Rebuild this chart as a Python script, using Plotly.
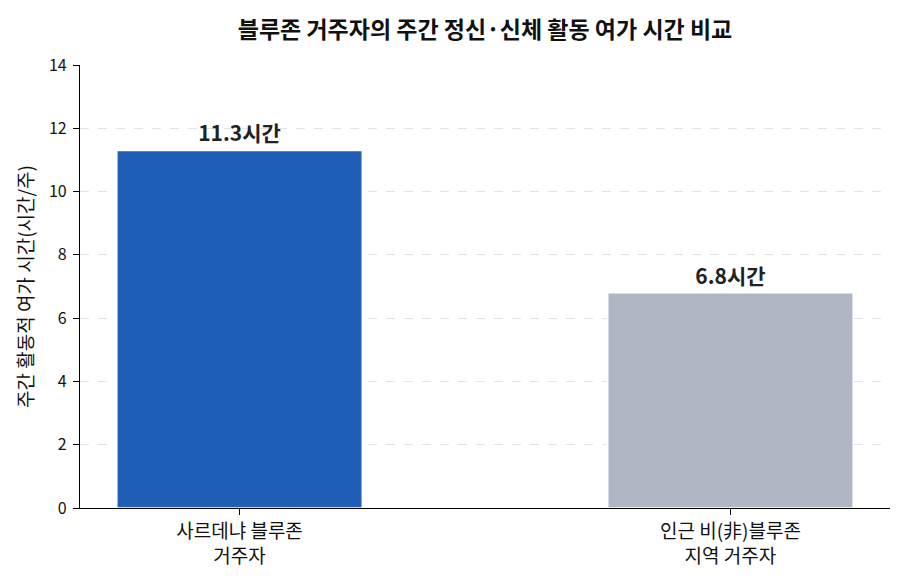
import plotly.graph_objects as go

categories = ["사르데냐 블루존<br>거주자", "인근 비(非)블루존<br>지역 거주자"]
hours = [11.3, 6.8]
bar_labels = ["11.3시간", "6.8시간"]
bar_colors = ["#1f5fb8", "#b0b6c3"]
y_ticks = [0, 2, 4, 6, 8, 10, 12, 14]

FONT = "Noto Sans CJK KR"

fig = go.Figure(
    go.Bar(
        x=[0, 1],
        y=hours,
        width=0.5,
        marker=dict(color=bar_colors, line=dict(color="white", width=1.5)),
        text=bar_labels,
        textposition="outside",
        textfont=dict(family=FONT, size=21, color="#222222", weight="bold"),
        cliponaxis=False,
    )
)

# the page adds an 8px body margin, so margins are trimmed by that much
fig.update_layout(
    width=910,
    height=585,
    margin=dict(l=72, r=28, t=57, b=85),
    plot_bgcolor="white",
    paper_bgcolor="white",
    font=dict(family=FONT, size=14, color="#111111"),
    showlegend=False,
    title=dict(
        text="<b>블루존 거주자의 주간 정신·신체 활동 여가 시간 비교</b>",
        x=0.5,
        xref="paper",
        y=0.962,
        yref="container",
        yanchor="middle",
        font=dict(family=FONT, size=23, color="#111111"),
    ),
)

fig.update_xaxes(
    range=[-0.325, 1.325],
    tickvals=[0, 1],
    ticktext=categories,
    showline=True,
    linecolor="black",
    linewidth=1.2,
    ticks="outside",
    ticklen=6,
    tickcolor="black",
    showgrid=False,
    zeroline=False,
    tickfont=dict(size=19),
)

fig.update_yaxes(
    range=[0, 14],
    tickvals=y_ticks,
    showline=True,
    linecolor="black",
    linewidth=1.2,
    ticks="outside",
    ticklen=6,
    tickcolor="black",
    ticklabelstandoff=3,
    showgrid=True,
    gridcolor="#e3e3e3",
    griddash="dash",
    gridwidth=1,
    zeroline=False,
    tickfont=dict(size=16),
    title=dict(text="주간 활동적 여가 시간(시간/주)", font=dict(size=19), standoff=10),
)

fig.write_html("out.html")
